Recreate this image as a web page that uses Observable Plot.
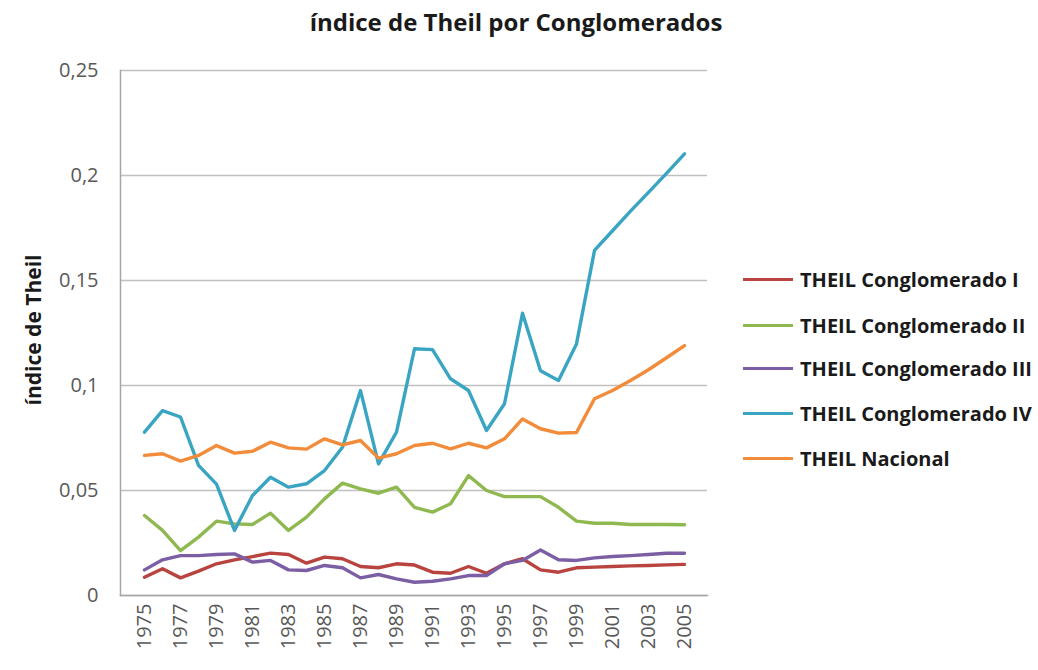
<!DOCTYPE html>
<html>
<head>
<meta charset="utf-8">
<script src="https://cdn.jsdelivr.net/npm/d3@7"></script>
<script src="https://cdn.jsdelivr.net/npm/@observablehq/plot@0.6"></script>
<style>
  body { margin: 0; background: #fff; }
  #wrap { position: relative; width: 1038px; height: 670px; font-family: "Open Sans", Lato, sans-serif; }
  #title { position: absolute; left: 0; top: 5px; width: 1032px; text-align: center;
           font-weight: bold; font-size: 24px; color: #1a1a1a; letter-spacing: 0px; }
  #ytitle { position: absolute; left: 33px; top: 330px; transform: translate(-50%, -50%) rotate(-90deg);
            white-space: nowrap; font-weight: bold; font-size: 21px; color: #1a1a1a; }
  .leg { position: absolute; left: 743px; height: 26px; display: flex; align-items: center; }
  .sw { width: 50px; height: 3px; margin-right: 7px; }
  .lt { font-weight: bold; font-size: 20px; color: #1a1a1a; white-space: nowrap; }
  #chart { position: absolute; left: 0; top: 0; }
</style>
</head>
<body>
<div id="wrap">
  <div id="chart"></div>
  <div id="title">índice de Theil por Conglomerados</div>
  <div id="ytitle">índice de Theil</div>
</div>
<script>
const years = [1975,1976,1977,1978,1979,1980,1981,1982,1983,1984,1985,1986,1987,1988,1989,1990,
               1991,1992,1993,1994,1995,1996,1997,1998,1999,2000,2001,2002,2003,2004,2005];
const yearTicks = [1975,1977,1979,1981,1983,1985,1987,1989,1991,1993,1995,1997,1999,2001,2003,2005];
const yTicks = [0, 0.05, 0.1, 0.15, 0.2, 0.25];
const yTickLabels = ["0", "0,05", "0,1", "0,15", "0,2", "0,25"];

const seriesNames = ["THEIL Conglomerado I", "THEIL Conglomerado II", "THEIL Conglomerado III",
                     "THEIL Conglomerado IV", "THEIL Nacional"];
const seriesColors = ["#b8433f", "#8fb950", "#7b5ea3", "#3aa5c3", "#f28c3a"];

const conglomeradoI = [0.0087,0.0127,0.0084,0.0116,0.0151,0.0170,0.0185,0.0202,0.0195,0.0154,0.0183,0.0175,0.0138,0.0132,0.0151,0.0145,
                       0.0111,0.0106,0.0138,0.0106,0.0151,0.0175,0.0122,0.0111,0.0132,0.0135,0.0138,0.0141,0.0143,0.0146,0.0148];
const conglomeradoII = [0.0381,0.0310,0.0214,0.0278,0.0354,0.0341,0.0338,0.0392,0.0310,0.0373,0.0460,0.0535,0.0508,0.0487,0.0516,0.0420,
                        0.0397,0.0437,0.0571,0.0500,0.0471,0.0471,0.0471,0.0420,0.0354,0.0344,0.0344,0.0338,0.0338,0.0338,0.0337];
const conglomeradoIII = [0.0122,0.0170,0.0190,0.0190,0.0195,0.0198,0.0159,0.0167,0.0122,0.0119,0.0143,0.0132,0.0084,0.0100,0.0079,0.0063,
                         0.0068,0.0079,0.0095,0.0095,0.0151,0.0167,0.0217,0.0170,0.0167,0.0179,0.0186,0.0190,0.0195,0.0201,0.0201];
const conglomeradoIV = [0.0778,0.0880,0.0850,0.0620,0.0530,0.0310,0.0476,0.0563,0.0516,0.0532,0.0595,0.0706,0.0976,0.0627,0.0778,0.1175,
                        0.1171,0.1032,0.0976,0.0786,0.0913,0.1344,0.1070,0.1024,0.1198,0.1643,0.1737,0.1830,0.1920,0.2010,0.2103];
const nacional = [0.0667,0.0675,0.0640,0.0667,0.0714,0.0678,0.0687,0.0730,0.0703,0.0697,0.0746,0.0717,0.0738,0.0654,0.0675,0.0714,
                  0.0725,0.0698,0.0725,0.0703,0.0746,0.0841,0.0794,0.0773,0.0776,0.0937,0.0976,0.1024,0.1075,0.1132,0.1190];

const seriesValues = [conglomeradoI, conglomeradoII, conglomeradoIII, conglomeradoIV, nacional];
const data = [];
seriesNames.forEach((name, s) => {
  years.forEach((yr, i) => data.push({series: name, year: yr, value: seriesValues[s][i]}));
});

const fmt = d => yTickLabels[yTicks.findIndex(t => Math.abs(t - d) < 1e-9)];

const chart = Plot.plot({
  width: 1038,
  height: 670,
  marginLeft: 120,
  marginRight: 331,
  marginTop: 70,
  marginBottom: 75,
  style: {fontFamily: "'Open Sans', Lato, sans-serif", fontSize: "20px", color: "#595959", background: "white"},
  x: {type: "point", domain: years, padding: 0.5, label: null},
  y: {domain: [0, 0.25], label: null},
  color: {domain: seriesNames, range: seriesColors},
  marks: [
    Plot.gridY(yTicks, {stroke: "#c0c0c0", strokeOpacity: 1, strokeWidth: 1.5}),
    Plot.frame({anchor: "left", stroke: "#a6a6a6", strokeWidth: 1.5}),
    Plot.frame({anchor: "bottom", stroke: "#a6a6a6", strokeWidth: 1.5}),
    Plot.axisY(yTicks, {tickSize: 0, tickPadding: 22, tickFormat: fmt, fontSize: 20, fill: "#595959"}),
    Plot.axisX(yearTicks, {tickSize: 0, tickPadding: 8, tickRotate: -90, tickFormat: d => String(d),
                           fontSize: 20, fill: "#595959"}),
    Plot.line(data, {x: "year", y: "value", z: "series", stroke: "series", strokeWidth: 3.4,
                     strokeLinejoin: "round", strokeLinecap: "round"})
  ]
});
document.getElementById("chart").appendChild(chart);

const wrap = document.getElementById("wrap");
const legendY = [279, 325, 368, 413, 458];
seriesNames.forEach((name, i) => {
  const row = document.createElement("div");
  row.className = "leg";
  row.style.top = (legendY[i] - 13) + "px";
  const sw = document.createElement("div");
  sw.className = "sw";
  sw.style.background = seriesColors[i];
  const lt = document.createElement("div");
  lt.className = "lt";
  lt.textContent = name;
  row.appendChild(sw);
  row.appendChild(lt);
  wrap.appendChild(row);
});
</script>
</body>
</html>
